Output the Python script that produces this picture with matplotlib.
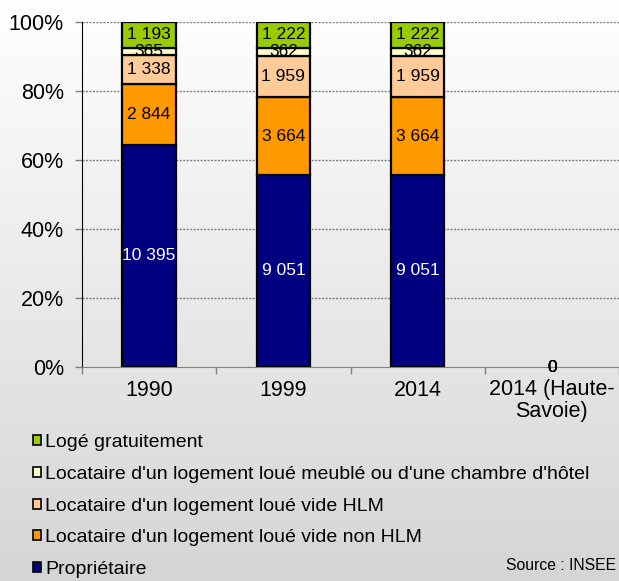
import numpy as np
import matplotlib.pyplot as plt
from matplotlib.patches import Patch

plt.rcParams['font.family'] = ['Liberation Sans', 'DejaVu Sans']

categories = ["1990", "1999", "2014", "2014 (Haute-\nSavoie)"]
series_names = ["Propriétaire",
                "Locataire d'un logement loué vide non HLM",
                "Locataire d'un logement loué vide HLM",
                "Locataire d'un logement loué meublé ou d'une chambre d'hôtel",
                "Logé gratuitement"]
proprietaire = [10395, 9051, 9051, 0]
loc_non_hlm = [2844, 3664, 3664, 0]
loc_hlm = [1338, 1959, 1959, 0]
loc_meuble = [365, 362, 362, 0]
loge_gratuit = [1193, 1222, 1222, 0]
y_ticks = [0, 20, 40, 60, 80, 100]
y_tick_labels = ["0%", "20%", "40%", "60%", "80%", "100%"]

series = [proprietaire, loc_non_hlm, loc_hlm, loc_meuble, loge_gratuit]
colors = ["#000080", "#ff9900", "#ffcc99", "#ffffcc", "#99cc00"]
label_colors = ["white", "black", "black", "black", "black"]

fig = plt.figure(figsize=(6.19, 5.81), dpi=100)

# gradient background
bg = fig.add_axes([0, 0, 1, 1], zorder=-10)
grad = np.linspace(1.0, 0.835, 256).reshape(-1, 1)
bg.imshow(np.dstack([grad, grad, grad]), aspect='auto', extent=[0, 1, 0, 1])
bg.axis('off')

ax = fig.add_axes([82/619, 1 - 367/581, 1 - 82/619, (367-22)/581])
ax.patch.set_alpha(0)

data = np.array(series, dtype=float)
totals = data.sum(axis=0)
pct = np.where(totals > 0, data / np.where(totals > 0, totals, 1) * 100, 0)
x = np.arange(len(categories))
bottom = np.zeros(len(categories))
for i, name in enumerate(series_names):
    lws = [1.6 if v > 0 else 0 for v in data[i]]
    ax.bar(x, pct[i], 0.4, bottom=bottom, color=colors[i], edgecolor='black',
           linewidth=lws, label=name, zorder=3)
    for j in range(len(categories)):
        v = int(data[i, j])
        txt = f"{v:,}".replace(",", " ")
        ax.text(x[j], bottom[j] + pct[i, j] / 2, txt, ha='center', va='center',
                color=label_colors[i], fontsize=12.5, zorder=5)
    bottom += pct[i]

ax.set_xlim(-0.5, len(categories) - 0.5)
ax.set_ylim(0, 100)
ax.set_yticks(y_ticks)
ax.set_yticklabels(y_tick_labels, fontsize=15.5)
ax.set_xticks(x)
ax.set_xticklabels(categories, fontsize=15.5, linespacing=1.0)
ax.tick_params(axis='x', which='major', length=0, pad=9)
ax.set_xticks(np.arange(len(categories) + 1) - 0.5, minor=True)
ax.tick_params(axis='x', which='minor', length=5, color='#808080', width=1)
ax.tick_params(axis='y', length=5, width=1, color='#808080', pad=8)
for yv in y_ticks[1:]:
    ax.axhline(yv, color='#808080', linestyle=(0, (1.5, 1)), linewidth=1, zorder=1)
for s in ['top', 'right']:
    ax.spines[s].set_visible(False)
ax.spines['left'].set_color('black')
ax.spines['bottom'].set_color('#808080')
ax.spines['bottom'].set_zorder(4)

handles = [Patch(facecolor=colors[i], edgecolor='black', linewidth=1.2) for i in range(len(colors))][::-1]
labels = series_names[::-1]
fig.legend(handles, labels, loc='upper left', bbox_to_anchor=(33/619, 1 - 434/581),
           frameon=False, fontsize=14, handlelength=0.42, handleheight=0.42,
           handletextpad=0.22, labelspacing=0.76, borderpad=0, borderaxespad=0)

fig.text(616/619, 1 - 566/581, "Source : INSEE", ha='right', va='center', fontsize=11.3)

fig.savefig("out.png", dpi=100)
